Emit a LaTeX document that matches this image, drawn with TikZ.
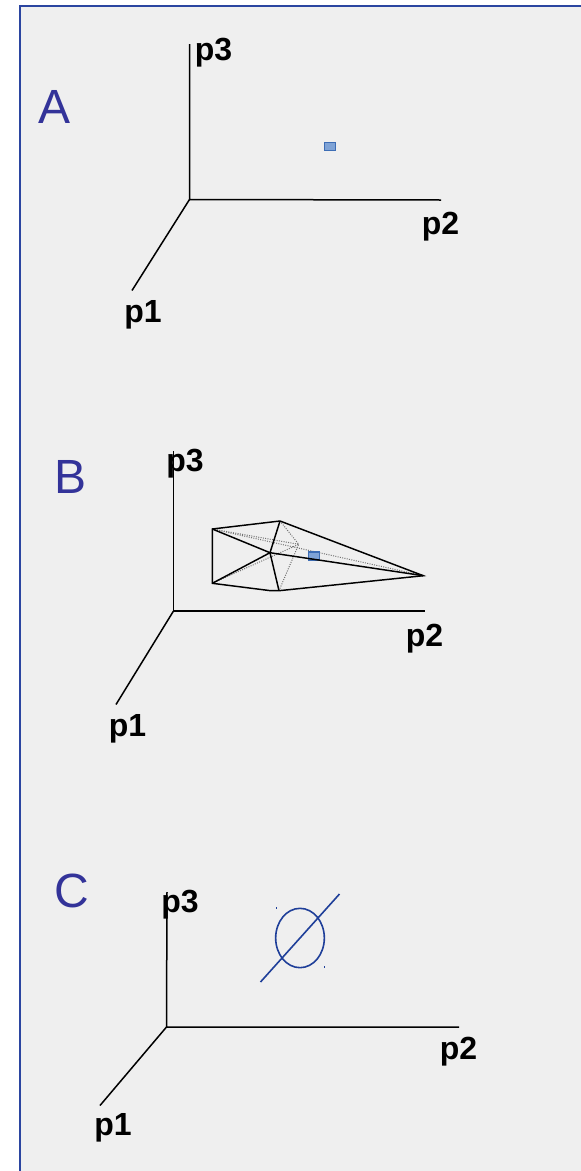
\documentclass[tikz,border=0pt]{standalone}
\usepackage{fontspec}
\usetikzlibrary{shapes.geometric}
\setmainfont{Liberation Sans}
\definecolor{framecol}{HTML}{2B45A0}
\definecolor{panel}{HTML}{EFEFEF}
\definecolor{lettercol}{HTML}{333399}
\definecolor{ringcol}{HTML}{1F3F99}
\definecolor{dotfill}{HTML}{7FA3D6}
\definecolor{dotedge}{HTML}{3D6DB5}
\tikzset{
  axis/.style={draw=black,line width=1.5pt*0.75},
  axlabel/.style={inner sep=0pt,font=\fontsize{24pt}{24pt}\selectfont\bfseries,text=black},
  letter/.style={inner sep=0pt,font=\fontsize{36pt}{36pt}\selectfont,text=lettercol},
  edge/.style={draw=black,line width=1.1pt},
  hidden/.style={draw=black!55,line width=0.75pt,densely dotted},
  point/.style={draw=dotedge,fill=dotfill,line width=1.2pt,inner sep=0pt,minimum width=8pt,minimum height=6pt},
  ring/.style={draw=ringcol,line width=1.2pt},
  speck/.style={fill=ringcol,inner sep=0pt,minimum width=0.6pt,minimum height=2pt},
}
\begin{document}
\begin{tikzpicture}[x=0.75pt,y=-0.75pt]
\useasboundingbox (0,0) rectangle (581,1171);
\path[fill=white] (0,0) rectangle (581,1171);
\path[fill=panel,draw=framecol,line width=1.5pt] (20,6) -- (590,6) -- (590,1185) -- (20,1185) -- cycle;
% Panel A
\node[letter] (la) at (54.5,107) {A};
\coordinate (ao) at (189.5,199.5);
\coordinate (a3) at (189.5,44);
\coordinate (a2) at (441,200);
\coordinate (a1) at (132,290.5);
\draw[axis] (a3) -- (ao) -- (a2);
\draw[axis] (ao) -- (a1);
\node[axlabel] (ap3) at (213.5,53) {p3};
\node[axlabel] (ap2) at (440.5,227) {p2};
\node[axlabel] (ap1) at (143,315) {p1};
\node[point] (apt) at (330,146.5) {};
% Panel B
\node[letter] (lb) at (70.5,477) {B};
\coordinate (bo) at (173.5,611);
\coordinate (b3) at (173.5,451);
\coordinate (b2) at (424.5,611);
\coordinate (b1) at (116,704.5);
\draw[axis] (b3) -- (bo) -- (b2);
\draw[axis] (bo) -- (b1);
\node[axlabel] (bp3) at (185,464) {p3};
\node[axlabel] (bp2) at (424.5,639) {p2};
\node[axlabel] (bp1) at (127.5,729) {p1};
\coordinate (va) at (212.3,529);
\coordinate (vb) at (280,521);
\coordinate (vc) at (270,552.7);
\coordinate (vd) at (212.3,583.3);
\coordinate (ve) at (279,590.7);
\coordinate (vx) at (270.7,590.7);
\coordinate (vf) at (423.3,575.7);
\coordinate (vg) at (298.7,544.3);
\draw[hidden] (va) -- (vf);
\draw[hidden] (vd) -- (vg);
\draw[hidden] (vb) -- (vg) -- (ve);
\draw[hidden] (va) -- (vg);
\node[point] (bpt) at (314,556) {};
\draw[edge] (va) -- (vb) -- (vf) -- (ve) -- (vx) -- (vd) -- cycle;
\draw[edge] (va) -- (vc) -- (vd);
\draw[edge] (vb) -- (vc) -- (ve);
\draw[edge] (vc) -- (vf);
% Panel C
\node[letter] (lc) at (71.5,891) {C};
\coordinate (co) at (166.5,1027);
\coordinate (c3) at (167,892);
\coordinate (c2) at (459,1027);
\coordinate (c1) at (100,1105.5);
\draw[axis] (c3) -- (co) -- (c2);
\draw[axis] (co) -- (c1);
\node[axlabel] (cp3) at (180,905) {p3};
\node[axlabel] (cp2) at (458.5,1052) {p2};
\node[axlabel] (cp1) at (113,1128) {p1};
\node[ring,ellipse,minimum width=36.5pt,minimum height=44.5pt,inner sep=0pt] (ns) at (300,938) {};
\coordinate (s1) at (260.5,982);
\coordinate (s2) at (339.5,894);
\draw[ring] (s1) -- (s2);
\node[speck] (k1) at (276.5,908) {};
\node[speck] (k2) at (324.5,967) {};
\end{tikzpicture}
\end{document}
